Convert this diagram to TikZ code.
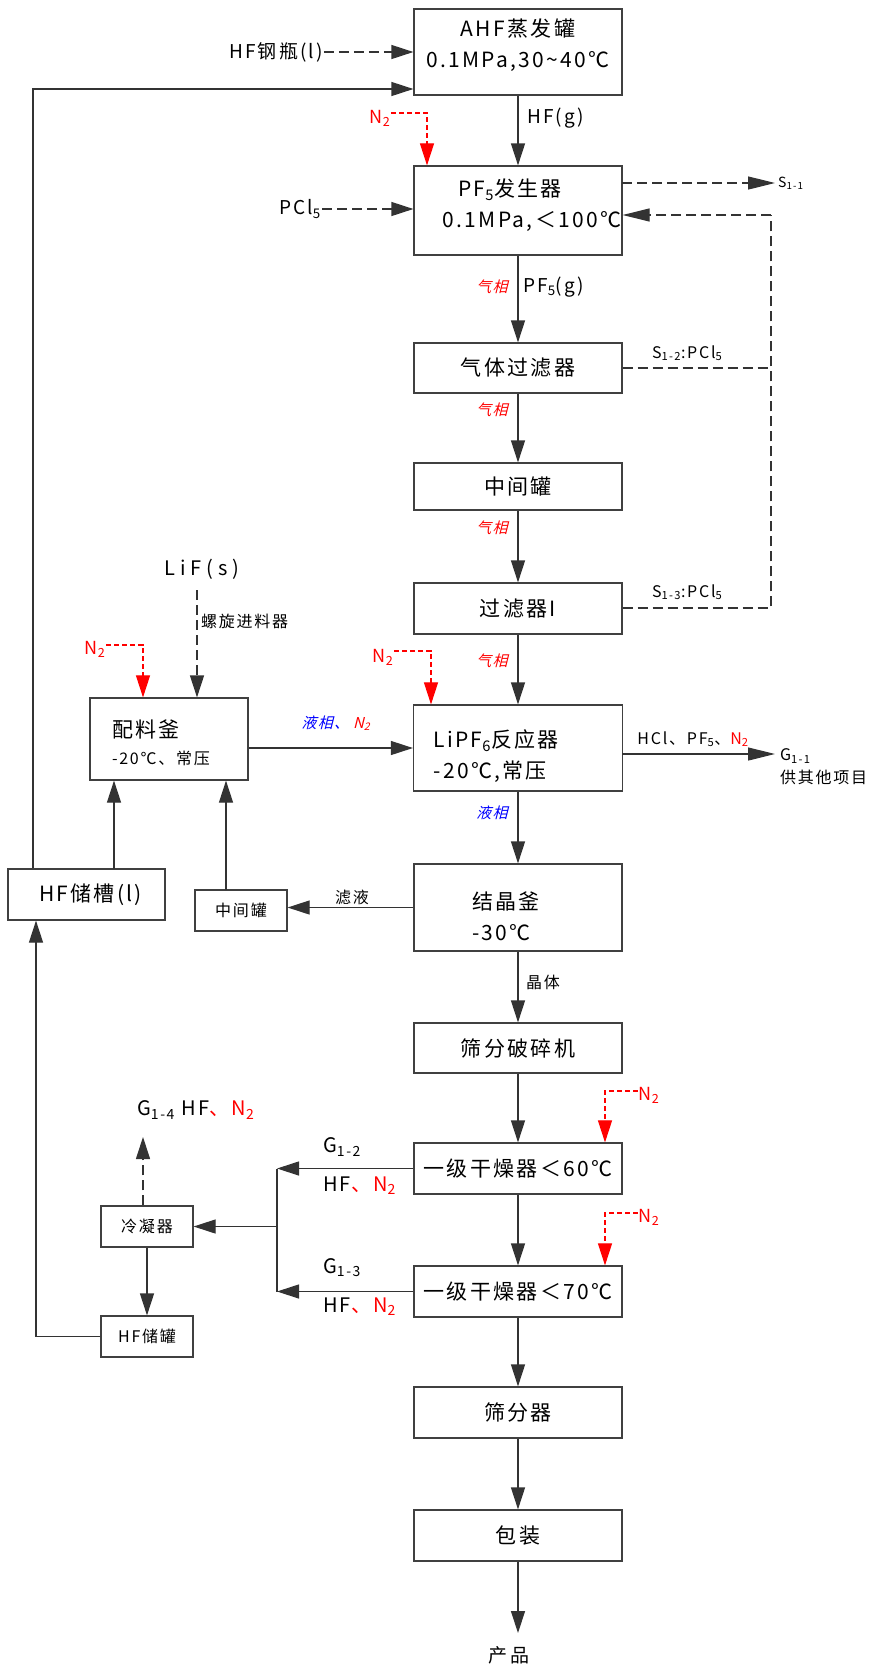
\documentclass[tikz,border=0pt]{standalone}
\usepackage{fontspec}
\setmainfont{Noto Sans CJK SC}[LetterSpace=11]
\newfontfamily\qslant{Noto Sans CJK SC}[FakeSlant=0.25,LetterSpace=8]
\usetikzlibrary{arrows.meta,calc}
\newcommand\qsub[1]{\textsubscript{#1}}
\begin{document}
\begin{tikzpicture}[x=1pt,y=-1pt,
  f14/.style={font=\fontsize{14}{16}\selectfont},
  f15/.style={font=\fontsize{15}{18}\selectfont},
  f16/.style={font=\fontsize{16}{18}\selectfont},
  f18/.style={font=\fontsize{18}{20}\selectfont},
  f19/.style={font=\fontsize{19}{22}\selectfont},
  f20/.style={font=\fontsize{20}{31}\selectfont},
  f21/.style={font=\fontsize{21}{31}\selectfont},
  box/.style={draw=black!75,line width=1.2pt,rectangle,inner sep=0pt,align=center,f21},
  cbox/.style={box,minimum width=208pt},
  sbox/.style={box,f16,minimum width=92pt,minimum height=41pt},
  lab/.style={inner sep=1pt},
  lne/.style={draw=black!80,line width=1.2pt},
  arr/.style={lne,-{Triangle[length=22pt,width=14pt]}},
  arrl/.style={lne,-{Triangle[length=27pt,width=13pt]}},
  dsh/.style={dash pattern=on 10pt off 5pt},
  rarr/.style={draw=red,line width=1.1pt,dash pattern=on 5pt off 3pt,-{Triangle[length=22pt,width=14pt]}},
  qx/.style={lab,font=\qslant\fontsize{15}{18}\selectfont}
]
\path[use as bounding box] (0,0) rectangle (875,1666);

% main column
\node[cbox,minimum height=86pt,text depth=17pt] (ahf) at (518,52) {AHF蒸发罐\\0.1MPa,30\textasciitilde40℃};
\node[cbox,minimum height=89pt,text depth=14pt] (pf5) at (518,210.5) {PF\qsub{5}发生器\hspace*{16pt}\\\hspace*{28pt}0.1MPa,＜100℃};
\node[cbox,minimum height=50pt] (gf) at (518,368) {气体过滤器};
\node[cbox,minimum height=47pt] (mt) at (518,486.5) {中间罐};
\node[cbox,minimum height=51pt] (f1) at (518,608.5) {过滤器I};
\node[box,text width=169pt,inner xsep=20pt,align=left,minimum height=86pt,text depth=18pt] (rx) at (518,748) {LiPF\qsub{6}反应器\\-20℃,常压};
\node[box,text width=92pt,inner xsep=58pt,align=left,minimum height=87pt,text depth=14pt] (cr) at (518,907.5) {结晶釜\\-30℃};
\node[cbox,minimum height=50pt] (cm) at (518,1048) {筛分破碎机};
\node[cbox,minimum height=51pt] (d1) at (518,1168.5) {一级干燥器＜60℃};
\node[cbox,minimum height=51pt] (d2) at (518,1291.5) {一级干燥器＜70℃};
\node[cbox,minimum height=51pt] (sv) at (518,1412.5) {筛分器};
\node[cbox,minimum height=51pt] (pk) at (518,1535.5) {包装};
\node[lab,f19] (prod) at (509,1655) {产品};
\coordinate (prodtip) at (518,1633);

% left side boxes
\node[box,text width=114pt,inner xsep=22pt,align=left,minimum height=82pt,text depth=20pt] (mx) at (169,739) {配料釜\\[-4pt]{\fontsize{16}{18}\selectfont -20℃、常压}};
\node[box,minimum width=157pt,minimum height=51pt] (ht) at (86.5,894.5) {\hspace*{8pt}HF储槽(l)};
\node[sbox] (mt2) at (241,910.5) {中间罐};
\node[sbox] (cd) at (147,1226.5) {冷凝器};
\node[sbox] (hs) at (147,1336.5) {HF储罐};

% labels
\node[lab,f19] (hfb) at (276,52) {HF钢瓶(l)};
\node[lab,f19] (pcl) at (300,209) {PCl\qsub{5}};
\node[lab,f19,anchor=west] (hfg) at (526,118) {HF(g)};
\node[lab,f18,red] (n2a) at (380,118) {N\qsub{2}};
\node[qx,red] (q1) at (492,287) {气相};
\node[lab,f19,anchor=west] (pf5g) at (522,287) {PF\qsub{5}(g)};
\node[lab,f14,anchor=west] (s11) at (777,183) {S\qsub{1-1}};
\node[lab,f16,anchor=west] (s12) at (651,353) {S\qsub{1-2}:PCl\qsub{5}};
\node[lab,f16,anchor=west] (s13) at (651,592) {S\qsub{1-3}:PCl\qsub{5}};
\node[qx,red] (q2) at (492,410) {气相};
\node[qx,red] (q3) at (492,528) {气相};
\node[qx,red] (q4) at (492,661) {气相};
\node[lab,f20] (lif) at (202,569) {\addfontfeature{LetterSpace=25}LiF(s)};
\node[lab,f16,anchor=west] (screw) at (200,621) {螺旋进料器};
\node[lab,f18,red] (n2b) at (95,649) {N\qsub{2}};
\node[lab,f18,red] (n2c) at (383,657) {N\qsub{2}};
\node[qx] (liqn) at (336,723) {\textcolor{blue}{液相、}\hspace{4pt}\textcolor{red}{N\qsub{2}}};
\node[lab,f16] (g11lab) at (693,739) {HCl、PF\qsub{5}、\textcolor{red}{N\qsub{2}}};
\node[lab,f16,anchor=west] (g11) at (779,756) {G\qsub{1-1}};
\node[lab,f16,anchor=west] (other) at (779,777) {供其他项目};
\node[qx,blue] (q5) at (492,813) {液相};
\node[lab,f16] (filt) at (352,897) {滤液};
\node[lab,f16,anchor=west] (xtal) at (525,982) {晶体};
\node[lab,f18,red] (n2d) at (649,1095) {N\qsub{2}};
\node[lab,f18,red] (n2e) at (649,1217) {N\qsub{2}};
\node[lab,f20,anchor=west] (g12) at (322,1147) {G\qsub{1-2}};
\node[lab,f20,anchor=west] (hn1) at (322,1186) {HF\textcolor{red}{、N\qsub{2}}};
\node[lab,f20,anchor=west] (g13) at (322,1268) {G\qsub{1-3}};
\node[lab,f20,anchor=west] (hn2) at (322,1307) {HF\textcolor{red}{、N\qsub{2}}};
\node[lab,f20,anchor=west] (g14) at (136,1110) {G\qsub{1-4} HF\textcolor{red}{、N\qsub{2}}};

% main flow
\draw[arr] (ahf.south) -- (pf5.north);
\draw[arr] (pf5.south) -- (gf.north);
\draw[arr] (gf.south) -- (mt.north);
\draw[arr] (mt.south) -- (f1.north);
\draw[arr] (f1.south) -- (rx.north);
\draw[arr] (rx.south) -- (cr.north);
\draw[arr] (cr.south) -- (cm.north);
\draw[arr] (cm.south) -- (d1.north);
\draw[arr] (d1.south) -- (d2.north);
\draw[arr] (d2.south) -- (sv.north);
\draw[arr] (sv.south) -- (pk.north);
\draw[arr] (pk.south) -- (prodtip);

% feeds to top
\draw[arr,dsh] (hfb.east) -- (hfb.east -| ahf.west);
\draw[arr,dsh] (pcl.east) -- (pcl.east -| pf5.west);
\coordinate (lp) at (33,89);
\draw[arr] (lp |- ht.north) -- (lp) -- (lp -| ahf.west);

% S1 streams
\coordinate (s11a) at (622,183);
\coordinate (s11b) at (775,183);
\draw[arrl,dsh] (s11a) -- (s11b);
\coordinate (rc) at (771,215);
\coordinate (rb) at (771,608);
\draw[lne,dsh] (f1.east |- rb) -- (rb) -- (rc);
\draw[arrl,dsh] (rc) -- (rc -| pf5.east);
\draw[lne,dsh] (gf.east) -- (gf.east -| rc);

% red N2 feeds
\coordinate (n2ac) at (427,113);
\draw[rarr] (n2a.east |- n2ac) -- (n2ac) -- (n2ac |- pf5.north);
\coordinate (n2bc) at (143,645);
\draw[rarr] (n2b.east |- n2bc) -- (n2bc) -- (n2bc |- mx.north);
\coordinate (n2cc) at (431,651);
\draw[rarr] (n2c.east |- n2cc) -- (n2cc) -- (n2cc |- rx.north);
\coordinate (n2dc) at (605,1091);
\draw[rarr] (n2d.west |- n2dc) -- (n2dc) -- (n2dc |- d1.north);
\coordinate (n2ec) at (605,1213);
\draw[rarr] (n2e.west |- n2ec) -- (n2ec) -- (n2ec |- d2.north);

% LiF feed
\coordinate (lifc) at (197,590);
\draw[arr,dsh] (lifc) -- (lifc |- mx.north);

% mixer to reactor, G1-1
\draw[arr] (mx.east |- rx.west) -- (rx.west);
\coordinate (g11a) at (622,754);
\coordinate (g11b) at (775,754);
\draw[arrl] (g11a) -- (g11b);

% crystallizer filtrate loop
\draw[arr] (cr.west) -- (cr.west -| mt2.east);
\coordinate (mtup) at (226,890);
\draw[arr] (mtup) -- (mtup |- mx.south);
\coordinate (htup) at (114,869);
\draw[arr] (htup) -- (htup |- mx.south);

% dryer off-gas
\coordinate (br1) at (277,1169);
\draw[arr] (d1.west) -- (d1.west -| br1);
\draw[arr] (d2.west) -- (d2.west -| br1);
\draw[lne] (br1) -- (br1 |- d2.west);
\draw[arr] (br1 |- cd.east) -- (cd.east);
\coordinate (g14c) at (143,1137);
\draw[arr,dsh] (cd.north -| g14c) -- (g14c);
\draw[arr] (cd.south) -- (hs.north);
\coordinate (lq) at (36,1337);
\draw[arr] (hs.west) -- (hs.west -| lq) -- (lq |- ht.south);
\end{tikzpicture}
\end{document}
